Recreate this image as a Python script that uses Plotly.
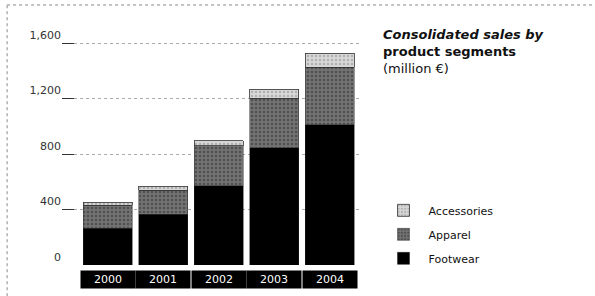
import plotly.graph_objects as go

years = ["2000", "2001", "2002", "2003", "2004"]
footwear = [265, 366, 574, 847, 1012]
apparel = [167, 173, 287, 358, 416]
accessories = [20, 28, 36, 65, 100]
y_ticks = [0, 400, 800, 1200, 1600]
y_tick_labels = ["0", "400", "800", "1,200", "1,600"]

FONT = "DejaVu Sans"

fig = go.Figure()
fig.add_trace(go.Bar(x=years, y=footwear, name="Footwear", legendgroup="f", legendrank=3,
                     marker=dict(color="#000000", line=dict(color="#222", width=0.5))))
fig.add_trace(go.Bar(x=years, y=apparel, name="Apparel", legendgroup="ap", legendrank=2,
                     marker=dict(color="#737373", line=dict(color="#333", width=0.5),
                                 pattern=dict(shape=".", fgcolor="#2e2e2e", size=4, solidity=0.35))))
fig.add_trace(go.Bar(x=years, y=accessories, name="Accessories", legendgroup="ac", legendrank=1,
                     marker=dict(color="#d8d8d8", line=dict(color="#333", width=0.8),
                                 pattern=dict(shape=".", fgcolor="#888", size=4, solidity=0.3))))

# x tick labels in black boxes (category index positions)
for i, yr in enumerate(years):
    fig.add_annotation(x=i, y=0, xref="x", yref="paper", text=yr, showarrow=False,
                       yanchor="top", yshift=-5, width=52, height=15,
                       bgcolor="#000000", font=dict(family=FONT, size=11, color="white"))

fig.add_annotation(xref="paper", yref="paper", x=1.063, y=1.075, xanchor="left", yanchor="top",
                   align="left", showarrow=False,
                   text="<b><i>Consolidated sales by</i></b><br><b>product segments</b><br>(million €)",
                   font=dict(family=FONT, size=13, color="#111"))

# outer dotted frame (top and left)
fig.add_shape(type="line", xref="paper", yref="paper", x0=-0.183, x1=1.8, y0=1.166, y1=1.166,
              line=dict(color="#888", width=1, dash="dot"))
fig.add_shape(type="line", xref="paper", yref="paper", x0=-0.183, x1=-0.183, y0=-0.14, y1=1.166,
              line=dict(color="#888", width=1, dash="dot"))

fig.update_layout(
    width=595, height=296,
    margin=dict(l=62, r=233, t=42, b=31),
    paper_bgcolor="white", plot_bgcolor="white",
    barmode="stack", bargap=0.12,
    showlegend=True,
    legend=dict(x=1.055, y=0.31, xanchor="left", yanchor="top", traceorder="grouped",
                tracegroupgap=5, font=dict(family=FONT, size=11, color="#111"),
                itemwidth=40),
    font=dict(family=FONT, size=11, color="#333"),
    xaxis=dict(type="category", range=[-0.82, 4.58], showticklabels=False, showgrid=False,
               zeroline=False, showline=False, ticks=""),
    yaxis=dict(range=[0, 1610], tickvals=y_ticks, ticktext=y_tick_labels,
               showgrid=True, gridcolor="#aaa", griddash="dot", gridwidth=1,
               zeroline=False, showline=False, ticks="inside", ticklen=12, tickcolor="#333",
               tickwidth=1, ticklabelposition="outside top",
               tickfont=dict(family=FONT, size=11, color="#333")),
)

fig.write_html("out.html", config={"displayModeBar": False},
               post_script="document.body.style.margin='0';")
